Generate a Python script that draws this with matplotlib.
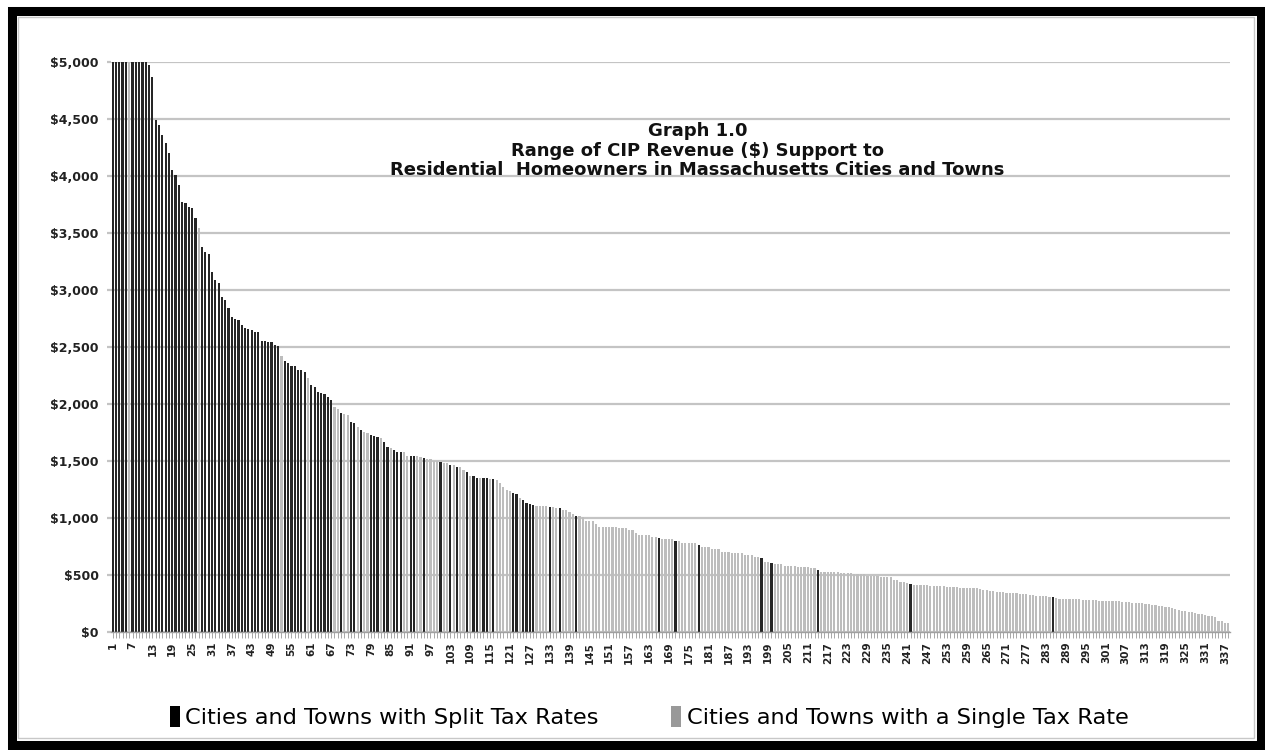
import matplotlib
matplotlib.use("Agg")
import matplotlib.pyplot as plt
from matplotlib.patches import Patch, Rectangle

# CIP revenue support per community, sorted high to low (capped at $5,000)
values = [
    5000, 5000, 5000, 5000, 5000, 5000, 5000, 5000, 5000, 5000,
    5000, 4970, 4870, 4490, 4450, 4360, 4290, 4200, 4050, 4010,
    3920, 3770, 3760, 3730, 3720, 3630, 3545, 3380, 3330, 3320,
    3160, 3090, 3060, 2940, 2910, 2840, 2765, 2750, 2740, 2690,
    2665, 2660, 2650, 2630, 2630, 2550, 2550, 2545, 2540, 2515,
    2510, 2420, 2380, 2360, 2335, 2330, 2300, 2295, 2280, 2230,
    2165, 2150, 2105, 2100, 2090, 2060, 2035, 1975, 1955, 1920,
    1915, 1900, 1840, 1830, 1800, 1770, 1755, 1745, 1730, 1720,
    1710, 1700, 1670, 1625, 1610, 1600, 1580, 1580, 1575, 1545,
    1540, 1540, 1540, 1538, 1525, 1515, 1515, 1500, 1500, 1490,
    1485, 1485, 1465, 1465, 1450, 1450, 1420, 1400, 1370, 1370,
    1355, 1350, 1350, 1350, 1345, 1345, 1330, 1305, 1275, 1250,
    1235, 1220, 1210, 1175, 1160, 1135, 1125, 1115, 1105, 1105,
    1105, 1105, 1095, 1095, 1085, 1085, 1070, 1070, 1055, 1035,
    1020, 1020, 1005, 975, 975, 975, 945, 925, 925, 925,
    925, 925, 925, 910, 910, 910, 895, 895, 865, 850,
    850, 850, 850, 835, 835, 825, 815, 815, 815, 815,
    800, 795, 780, 780, 780, 780, 780, 765, 750, 750,
    750, 730, 730, 730, 705, 705, 705, 690, 690, 690,
    690, 675, 675, 675, 660, 660, 645, 615, 615, 605,
    595, 595, 595, 580, 580, 580, 580, 570, 570, 570,
    570, 560, 560, 545, 530, 530, 530, 530, 530, 530,
    520, 520, 520, 520, 510, 510, 510, 510, 495, 495,
    495, 495, 480, 480, 480, 480, 456, 456, 440, 440,
    430, 421, 412, 411, 410, 409, 408, 406, 405, 404,
    402, 400, 398, 395, 393, 392, 390, 388, 387, 386,
    385, 383, 375, 372, 368, 360, 358, 355, 352, 349,
    346, 343, 340, 338, 335, 332, 330, 328, 325, 320,
    318, 315, 312, 310, 304, 295, 293, 292, 291, 290,
    289, 289, 286, 284, 283, 281, 278, 277, 276, 274,
    273, 272, 270, 269, 268, 266, 262, 260, 258, 256,
    254, 251, 248, 245, 241, 237, 230, 226, 221, 216,
    210, 202, 192, 184, 180, 177, 174, 170, 160, 155,
    149, 140, 137, 134, 99, 99, 82, 80,
]

# rank positions of communities with split tax rates (all others single rate)
split_ranks = (
    list(range(1, 6)) + list(range(7, 27)) + list(range(28, 52))
    + list(range(53, 60)) + list(range(61, 68))
    + [70, 73, 74, 76, 79, 80, 81, 83, 84, 86, 87, 88, 91, 92, 95, 100,
       103, 105, 108, 110, 111, 113, 114, 116, 122, 123, 125, 126, 127,
       128, 133, 136, 141, 166, 171, 178, 197, 200, 214, 242, 285]
)

ytick_vals = [0, 500, 1000, 1500, 2000, 2500, 3000, 3500, 4000, 4500, 5000]
ytick_labels = ["$0", "$500", "$1,000", "$1,500", "$2,000", "$2,500",
                "$3,000", "$3,500", "$4,000", "$4,500", "$5,000"]

title_lines = ["Graph 1.0",
               "Range of CIP Revenue ($) Support to",
               "Residential  Homeowners in Massachusetts Cities and Towns"]
legend_labels = ["Cities and Towns with Split Tax Rates",
                 "Cities and Towns with a Single Tax Rate"]

split_color = "#262626"
single_color = "#bdbdbd"

n = len(values)
ranks = list(range(1, n + 1))
split_set = set(split_ranks)
colors = [split_color if r in split_set else single_color for r in ranks]

fig = plt.figure(figsize=(12.65, 7.5), dpi=100)
fig.patch.set_facecolor("white")
ax = fig.add_axes([111 / 1265, 1 - 632 / 750, 1119 / 1265, 570 / 750])

ax.bar(ranks, values, width=0.66, color=colors, linewidth=0, zorder=2)

ax.set_xlim(0.5, n + 0.5)
ax.set_ylim(0, 5000)
ax.set_yticks(ytick_vals)
ax.set_yticklabels(ytick_labels, fontsize=9, fontweight="bold", color="#222222")
ax.yaxis.grid(True, color="#c4c4c4", linewidth=1.6, zorder=0)
ax.set_axisbelow(True)

xt = ranks[::6]
ax.set_xticks(xt)
ax.set_xticklabels([str(r) for r in xt], rotation=90, fontsize=7.5,
                   fontweight="bold", color="#222222")
ax.set_xticks(ranks, minor=True)
ax.tick_params(axis="x", which="both", length=4, width=0.6, color="#999999", pad=3)
ax.tick_params(axis="y", length=3, width=1.6, color="#c4c4c4", pad=6)

for s in ["top", "right", "left"]:
    ax.spines[s].set_visible(False)
ax.spines["bottom"].set_color("#a0a0a0")
ax.spines["bottom"].set_linewidth(1.0)

ax.text(0.524, 0.895, "\n".join(title_lines), transform=ax.transAxes,
        ha="center", va="top", fontsize=13, fontweight="bold",
        color="#111111", linespacing=1.12)

handles = [Patch(facecolor="black", edgecolor="none"),
           Patch(facecolor="#999999", edgecolor="none")]
fig.legend(handles, legend_labels, loc="center", bbox_to_anchor=(0.513, 0.044),
           ncol=2, frameon=False, handlelength=0.45, handleheight=1.1,
           handletextpad=0.25, columnspacing=3.2,
           prop={"family": ["Liberation Sans Narrow", "DejaVu Sans"], "size": 16.2})

# black picture frame with thin grey inner rule
fig.patches.append(Rectangle((11.5 / 1265, 5 / 750), 1249 / 1265, 734 / 750,
                             transform=fig.transFigure, fill=False,
                             edgecolor="black", linewidth=6.5, zorder=10))
fig.patches.append(Rectangle((18 / 1265, 12 / 750), 1236 / 1265, 721 / 750,
                             transform=fig.transFigure, fill=False,
                             edgecolor="#c8c8c8", linewidth=1.0, zorder=10))

fig.savefig("out.png", dpi=100)
